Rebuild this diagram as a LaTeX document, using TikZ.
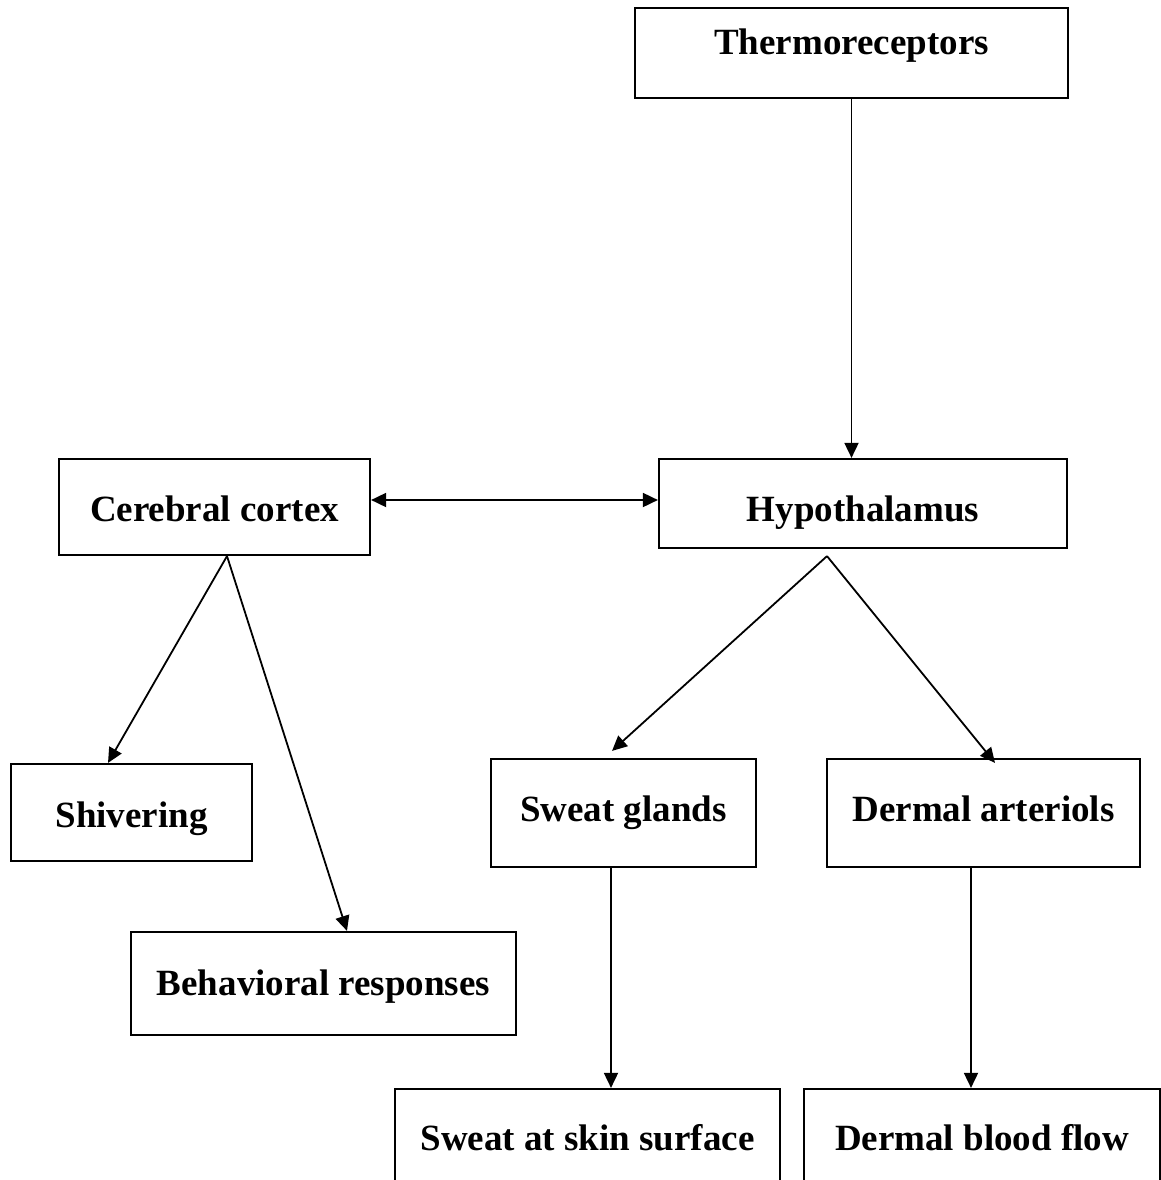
\documentclass[tikz,border=0pt]{standalone}
\usepackage{fontspec}
\setmainfont{Liberation Serif}
\usetikzlibrary{arrows.meta}
\begin{document}
\begin{tikzpicture}[x=1pt,y=-1pt,
  box/.style={draw,line width=2.2pt,rectangle,inner sep=0pt},
  lbl/.style={anchor=base,inner sep=0pt,font=\fontsize{37}{44}\selectfont\bfseries},
  arr/.style={line width=1.8pt,-{Triangle[length=15pt,width=14pt]}},
  darr/.style={line width=1.8pt,{Triangle[length=15pt,width=14pt]}-{Triangle[length=15pt,width=14pt]}}]
\useasboundingbox (0,0) rectangle (1161,1180);
\clip (0,0) rectangle (1161,1180);
% boxes
\node[box,minimum width=433pt,minimum height=90pt] (thermo) at (851.5,53) {};
\node[box,minimum width=311pt,minimum height=96pt] (cortex) at (214.5,507) {};
\node[box,minimum width=408pt,minimum height=89pt] (hypo) at (863,503.5) {};
\node[box,minimum width=241pt,minimum height=97pt] (shiver) at (131.5,812.5) {};
\node[box,minimum width=385pt,minimum height=103pt] (behav) at (323.5,983.5) {};
\node[box,minimum width=265pt,minimum height=108pt] (sweat) at (623.5,813) {};
\node[box,minimum width=313pt,minimum height=108pt] (dermal) at (983.5,813) {};
\node[box,minimum width=385pt,minimum height=132pt] (skin) at (587.5,1155) {};
\node[box,minimum width=356pt,minimum height=132pt] (flow) at (982,1155) {};
% texts
\node[lbl] (thermoT) at (851.5,55) {Thermoreceptors};
\node[lbl] (cortexT) at (214.5,521) {Cerebral cortex};
\node[lbl] (hypoT) at (863,521) {Hypothalamus};
\node[lbl] (shiverT) at (131.5,827) {Shivering};
\node[lbl] (behavT) at (323.5,995) {Behavioral responses};
\node[lbl] (sweatT) at (623.5,821) {Sweat glands};
\node[lbl] (dermalT) at (983.5,821) {Dermal arteriols};
\node[lbl] (skinT) at (587.5,1150) {Sweat at skin surface};
\node[lbl] (flowT) at (982,1150) {Dermal blood flow};
% connectors
\draw[arr] (thermo.south) -- (thermo.south |- hypo.north);
\draw[darr] ([yshift=7pt]cortex.east) -- ([yshift=7pt]cortex.east -| hypo.west);
\coordinate (capex) at ([xshift=12.5pt]cortex.south);
\draw[arr] (capex) -- ([xshift=-23.5pt]shiver.north);
\draw[arr] (capex) -- ([xshift=23.5pt]behav.north);
\coordinate (hapex) at ([shift={(-36pt,-7pt)}]hypo.south);
\draw[arr] (hapex) -- ([shift={(-11.5pt,7pt)}]sweat.north);
\draw[arr] (hapex) -- ([shift={(11.5pt,-5pt)}]dermal.north);
\draw[arr] ([xshift=-12.5pt]sweat.south) -- ([xshift=-12.5pt]sweat.south |- skin.north);
\draw[arr] ([xshift=-12.5pt]dermal.south) -- ([xshift=-12.5pt]dermal.south |- flow.north);
\end{tikzpicture}
\end{document}
